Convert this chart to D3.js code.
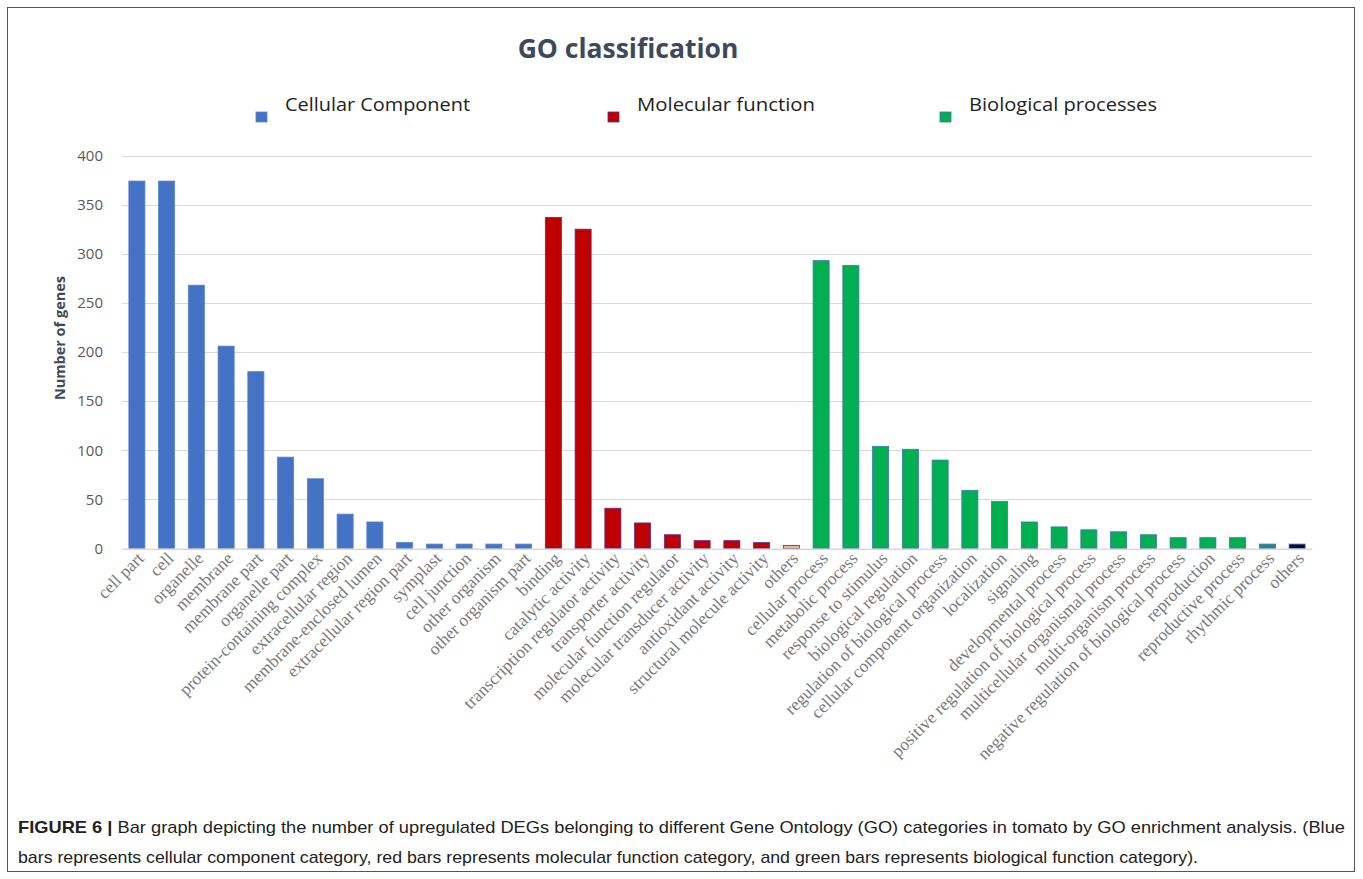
<!DOCTYPE html>
<html>
<head>
<meta charset="utf-8">
<script src="https://cdn.jsdelivr.net/npm/d3@7/dist/d3.min.js"></script>
<style>
  html, body { margin: 0; padding: 0; background: #fff; }
  svg { display: block; }
</style>
</head>
<body>
<svg id="chart" width="1363" height="879"></svg>
<script>
// GO categories and gene counts, one list per ontology
const ccCategories = ["cell part", "cell", "organelle", "membrane", "membrane part", "organelle part",
  "protein-containing complex", "extracellular region", "membrane-enclosed lumen",
  "extracellular region part", "symplast", "cell junction", "other organism", "other organism part"];
const ccValues = [374, 374, 268, 206, 180, 93, 71, 35, 27, 6, 4.5, 4.5, 4.5, 4.5];

const mfCategories = ["binding", "catalytic activity", "transcription regulator activity",
  "transporter activity", "molecular function regulator", "molecular transducer activity",
  "antioxidant activity", "structural molecule activity", "others"];
const mfValues = [337, 325, 41, 26, 14, 8, 8, 6, 3];

const bpCategories = ["cellular process", "metabolic process", "response to stimulus",
  "biological regulation", "regulation of biological process", "cellular component organization",
  "localization", "signaling", "developmental process", "positive regulation of biological process",
  "multicellular organismal process", "multi-organism process",
  "negative regulation of biological process", "reproduction", "reproductive process",
  "rhythmic process", "others"];
const bpValues = [293, 288, 104, 101, 90, 59, 48, 27, 22, 19, 17, 14, 11, 11, 11, 4.5, 4.5];

const yTicks = [0, 50, 100, 150, 200, 250, 300, 350, 400];
const legendLabels = ["Cellular Component", "Molecular function", "Biological processes"];

// Combined rows (group index keeps MF "others" and BP "others" distinct)
const rows = [
  ...ccCategories.map((c, i) => ({ key: "cc-" + i, label: c, value: ccValues[i], group: 0 })),
  ...mfCategories.map((c, i) => ({ key: "mf-" + i, label: c, value: mfValues[i], group: 1 })),
  ...bpCategories.map((c, i) => ({ key: "bp-" + i, label: c, value: bpValues[i], group: 2 }))
];

// Styling
const groupFill = ["#4472C4", "#C00000", "#00B050"];
const groupStroke = ["#5B84CC", "#5B2D8E", "#3F72B5"];
function barFill(d) {
  if (d.group === 1 && d.label === "others") return "#F4B183";
  if (d.group === 2 && d.label === "rhythmic process") return "#1E8C86";
  if (d.group === 2 && d.label === "others") return "#0B0B2A";
  return groupFill[d.group];
}

const svg = d3.select("#chart");

// Figure frame
svg.append("rect")
  .attr("x", 7.5).attr("y", 7.5).attr("width", 1347).attr("height", 864)
  .attr("fill", "none").attr("stroke", "#555").attr("stroke-width", 1);

const x = d3.scaleBand().domain(rows.map(d => d.key)).range([122, 1312]).paddingInner(0.46).paddingOuter(0.23);
const y = d3.scaleLinear().domain([0, 400]).range([548.5, 155.5]);

// Gridlines
svg.append("g")
  .selectAll("line").data(yTicks).join("line")
  .attr("x1", 122).attr("x2", 1312)
  .attr("y1", d => Math.round(y(d)) + 0.5).attr("y2", d => Math.round(y(d)) + 0.5)
  .attr("stroke", "#D9D9D9").attr("stroke-width", 1.2);

// Y axis tick labels
const yAxis = d3.axisLeft(y).tickValues(yTicks).tickSize(0).tickPadding(0);
const yg = svg.append("g").attr("transform", "translate(103,0)").call(yAxis);
yg.select(".domain").remove();
yg.selectAll("text")
  .attr("font-family", "'Open Sans', 'DejaVu Sans', sans-serif")
  .attr("font-size", 15).attr("fill", "#595959");

// Y axis title
svg.append("text")
  .attr("transform", "translate(65,338) rotate(-90)")
  .attr("text-anchor", "middle")
  .attr("font-family", "'Open Sans', sans-serif").attr("font-weight", "bold")
  .attr("font-size", 14.5).attr("fill", "#3E4A5C")
  .text("Number of genes");

// Bars
svg.append("g")
  .selectAll("rect").data(rows).join("rect")
  .attr("x", d => x(d.key))
  .attr("width", x.bandwidth())
  .attr("y", d => y(d.value))
  .attr("height", d => y(0) - y(d.value))
  .attr("fill", barFill)
  .attr("stroke", d => groupStroke[d.group])
  .attr("stroke-width", 0.8);

// Category labels, rotated 45 degrees
const xAxis = d3.axisBottom(x).tickSize(0).tickFormat(k => rows.find(r => r.key === k).label);
const xg = svg.append("g").attr("transform", "translate(0,548.5)").call(xAxis);
xg.select(".domain").attr("stroke", "#D9D9D9").attr("stroke-width", 1.2);
xg.selectAll("text")
  .attr("font-family", "'Liberation Serif', 'Times New Roman', serif")
  .attr("font-size", 17.5).attr("fill", "#7A7A7A")
  .attr("text-anchor", "end")
  .attr("dy", 0)
  .attr("transform", "translate(8,11) rotate(-45)")
  .attr("y", 0);

// Title
svg.append("text")
  .attr("x", 628).attr("y", 58)
  .attr("text-anchor", "middle")
  .attr("font-family", "'Open Sans', sans-serif").attr("font-weight", "bold")
  .attr("font-size", 26.5).attr("fill", "#3E4A5C")
  .text("GO classification");

// Legend
const legendX = [256, 608, 940];
const legendW = [185, 178, 188];
const legend = svg.append("g");
legendLabels.forEach((lab, i) => {
  legend.append("rect")
    .attr("x", legendX[i]).attr("y", 112).attr("width", 11).attr("height", 10)
    .attr("fill", groupFill[i]).attr("stroke", groupStroke[i]).attr("stroke-width", 0.8);
  legend.append("text")
    .attr("x", legendX[i] + 29).attr("y", 111)
    .attr("font-family", "'Open Sans', sans-serif")
    .attr("font-size", 19).attr("fill", "#222")
    .attr("textLength", legendW[i]).attr("lengthAdjust", "spacingAndGlyphs")
    .text(lab);
});

// Caption
const cap = svg.append("g")
  .attr("font-family", "'Liberation Sans Narrow', 'Arial Narrow', 'Liberation Sans', sans-serif")
  .attr("font-size", 17).attr("fill", "#222");
const l1 = cap.append("text").attr("x", 18).attr("y", 833).attr("textLength", 1327).attr("lengthAdjust", "spacingAndGlyphs");
l1.append("tspan").attr("font-weight", "bold").text("FIGURE 6 | ");
l1.append("tspan").text("Bar graph depicting the number of upregulated DEGs belonging to different Gene Ontology (GO) categories in tomato by GO enrichment analysis. (Blue");
cap.append("text").attr("x", 18).attr("y", 863).attr("textLength", 1180).attr("lengthAdjust", "spacingAndGlyphs")
  .text("bars represents cellular component category, red bars represents molecular function category, and green bars represents biological function category).");
</script>
</body>
</html>
